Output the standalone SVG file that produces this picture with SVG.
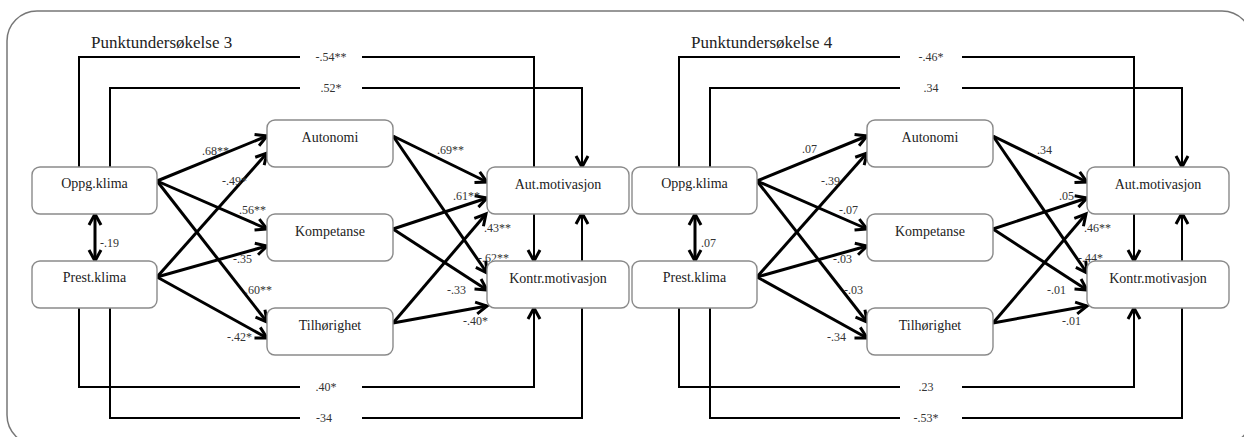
<svg xmlns="http://www.w3.org/2000/svg" width="1244" height="437" viewBox="0 0 1244 437">
<defs>
<style>
.frame{fill:none;stroke:#777;stroke-width:1.5}
.box{fill:#fff;stroke:#8a8a8a;stroke-width:1.4}
.nl{font-size:14px;fill:#222;text-anchor:middle}
.el{font-size:12px;fill:#333}
.bl{font-size:12px;fill:#333;text-anchor:middle}
.title{font-size:17px;fill:#222}
.d{fill:none;stroke:#000;stroke-width:3;marker-end:url(#ah)}
.b{fill:none;stroke:#000;stroke-width:2;marker-end:url(#ah)}
.bg{fill:#fff}
</style>
<marker id="ah" viewBox="-2 -8 16 16" markerWidth="16" markerHeight="16" refX="11" refY="0" markerUnits="userSpaceOnUse" orient="auto-start-reverse">
<path d="M0,-6 L11,0 L0,6" fill="none" stroke="#000" stroke-width="3"/>
</marker>
</defs>
<rect class="frame" x="7" y="11" width="1245" height="434" rx="30"/>
<g font-family="'Liberation Serif', 'DejaVu Serif', 'Times New Roman', serif">
<g id="panel3">
<text class="title" x="91" y="48">Punktundersøkelse 3</text>
<g id="connectors3">
<path class="b" d="M79,167 V57 H534 V261"/>
<path class="b" d="M110,167 V88 H582 V167"/>
<path class="b" d="M79,308 V387 H534 V308"/>
<path class="b" d="M110,308 V418 H582 V213"/>
<rect class="bg" x="300" y="50" width="62" height="14"/>
<rect class="bg" x="300" y="81" width="62" height="14"/>
<rect class="bg" x="300" y="380" width="62" height="14"/>
<rect class="bg" x="300" y="411" width="62" height="14"/>
<text class="bl" x="331" y="61">-.54**</text>
<text class="bl" x="331" y="92">.52*</text>
<text class="bl" x="326" y="391">.40*</text>
<text class="bl" x="324" y="422">-34</text>
<path d="M95,214 V261" fill="none" stroke="#000" stroke-width="3" marker-start="url(#ah)" marker-end="url(#ah)"/>
<text class="el" x="100" y="247">-.19</text>
<path class="d" d="M157,181 L267,136"/>
<path class="d" d="M157,181 L267,229"/>
<path class="d" d="M157,181 L267,322"/>
<path class="d" d="M157,277 L267,153"/>
<path class="d" d="M157,277 L267,246"/>
<path class="d" d="M157,277 L267,338"/>
<path class="d" d="M393,136 L487,182"/>
<path class="d" d="M393,136 L487,273"/>
<path class="d" d="M393,229 L487,198"/>
<path class="d" d="M393,229 L487,290"/>
<path class="d" d="M393,323 L486,214"/>
<path class="d" d="M393,323 L487,306"/>
<text class="el" x="202" y="155">.68**</text>
<text class="el" x="222" y="185">-.49*</text>
<text class="el" x="239" y="214">.56**</text>
<text class="el" x="233" y="263">-.35</text>
<text class="el" x="245" y="294">.60**</text>
<text class="el" x="227" y="341">-.42*</text>
<text class="el" x="437" y="154">.69**</text>
<text class="el" x="453" y="200">.61**</text>
<text class="el" x="484" y="232">.43**</text>
<text class="el" x="478" y="262">-.62**</text>
<text class="el" x="447" y="294">-.33</text>
<text class="el" x="463" y="325">-.40*</text>
</g>
<g id="oppg3"><rect class="box" x="32" y="167" width="125" height="47" rx="8"/><text class="nl" x="94.5" y="188">Oppg.klima</text></g>
<g id="prest3"><rect class="box" x="32" y="261" width="125" height="47" rx="8"/><text class="nl" x="94.5" y="282">Prest.klima</text></g>
<g id="auto3"><rect class="box" x="267" y="120" width="126" height="47" rx="8"/><text class="nl" x="330" y="142">Autonomi</text></g>
<g id="komp3"><rect class="box" x="267" y="214" width="126" height="47" rx="8"/><text class="nl" x="330" y="236">Kompetanse</text></g>
<g id="tilh3"><rect class="box" x="267" y="308" width="126" height="47" rx="8"/><text class="nl" x="330" y="330">Tilhørighet</text></g>
<g id="autmot3"><rect class="box" x="487" y="167" width="142" height="47" rx="8"/><text class="nl" x="558" y="189">Aut.motivasjon</text></g>
<g id="kontr3"><rect class="box" x="487" y="261" width="142" height="47" rx="8"/><text class="nl" x="558" y="283">Kontr.motivasjon</text></g>
</g>

<g id="panel4" transform="translate(600,0)">
<text class="title" x="91" y="48">Punktundersøkelse 4</text>
<g id="connectors4">
<path class="b" d="M79,167 V57 H534 V261"/>
<path class="b" d="M110,167 V88 H582 V167"/>
<path class="b" d="M79,308 V387 H534 V308"/>
<path class="b" d="M110,308 V418 H582 V213"/>
<rect class="bg" x="300" y="50" width="62" height="14"/>
<rect class="bg" x="300" y="81" width="62" height="14"/>
<rect class="bg" x="300" y="380" width="62" height="14"/>
<rect class="bg" x="300" y="411" width="62" height="14"/>
<text class="bl" x="331" y="61">-.46*</text>
<text class="bl" x="331" y="92">.34</text>
<text class="bl" x="326" y="391">.23</text>
<text class="bl" x="326" y="422">-.53*</text>
<path d="M95,214 V261" fill="none" stroke="#000" stroke-width="3" marker-start="url(#ah)" marker-end="url(#ah)"/>
<text class="el" x="101" y="247">.07</text>
<path class="d" d="M157,181 L267,136"/>
<path class="d" d="M157,181 L267,229"/>
<path class="d" d="M157,181 L267,322"/>
<path class="d" d="M157,277 L267,153"/>
<path class="d" d="M157,277 L267,246"/>
<path class="d" d="M157,277 L267,338"/>
<path class="d" d="M393,136 L487,182"/>
<path class="d" d="M393,136 L487,273"/>
<path class="d" d="M393,229 L487,198"/>
<path class="d" d="M393,229 L487,290"/>
<path class="d" d="M393,323 L486,214"/>
<path class="d" d="M393,323 L487,306"/>
<text class="el" x="202" y="153">.07</text>
<text class="el" x="221" y="185">-.39</text>
<text class="el" x="239" y="214">-.07</text>
<text class="el" x="233" y="263">-.03</text>
<text class="el" x="244" y="294">-.03</text>
<text class="el" x="227" y="341">-.34</text>
<text class="el" x="437" y="154">.34</text>
<text class="el" x="459" y="200">.05</text>
<text class="el" x="484" y="232">.46**</text>
<text class="el" x="478" y="262">-.44*</text>
<text class="el" x="447" y="294">-.01</text>
<text class="el" x="462" y="325">-.01</text>
</g>
<g id="oppg4"><rect class="box" x="32" y="167" width="125" height="47" rx="8"/><text class="nl" x="94.5" y="188">Oppg.klima</text></g>
<g id="prest4"><rect class="box" x="32" y="261" width="125" height="47" rx="8"/><text class="nl" x="94.5" y="282">Prest.klima</text></g>
<g id="auto4"><rect class="box" x="267" y="120" width="126" height="47" rx="8"/><text class="nl" x="330" y="142">Autonomi</text></g>
<g id="komp4"><rect class="box" x="267" y="214" width="126" height="47" rx="8"/><text class="nl" x="330" y="236">Kompetanse</text></g>
<g id="tilh4"><rect class="box" x="267" y="308" width="126" height="47" rx="8"/><text class="nl" x="330" y="330">Tilhørighet</text></g>
<g id="autmot4"><rect class="box" x="487" y="167" width="142" height="47" rx="8"/><text class="nl" x="558" y="189">Aut.motivasjon</text></g>
<g id="kontr4"><rect class="box" x="487" y="261" width="142" height="47" rx="8"/><text class="nl" x="558" y="283">Kontr.motivasjon</text></g>
</g>
</g>
</svg>
